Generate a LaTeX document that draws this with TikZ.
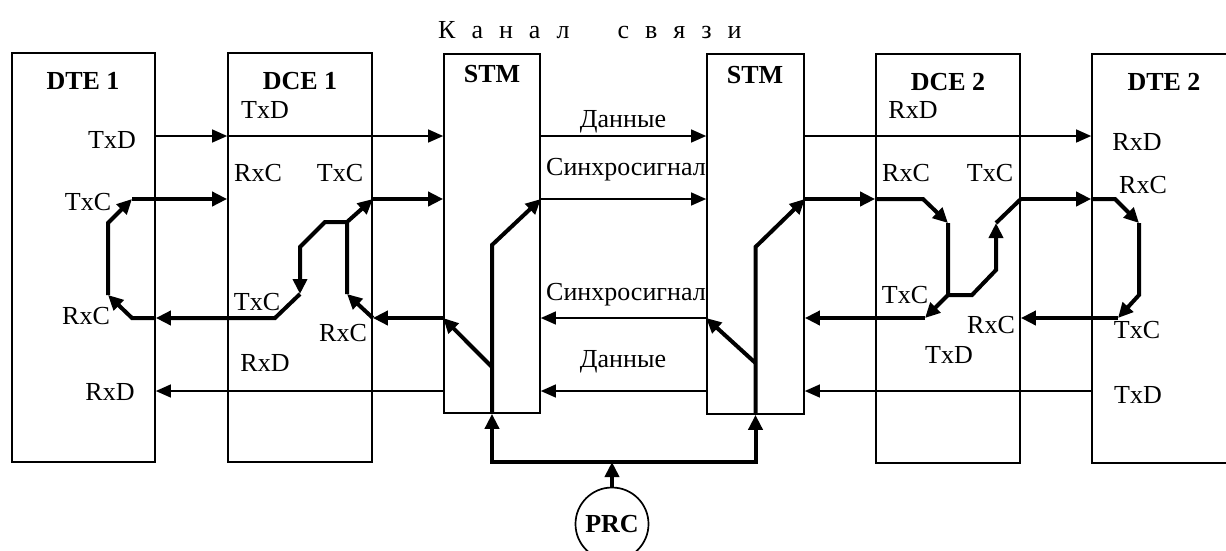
\documentclass[tikz,border=0pt]{standalone}
\usepackage{fontspec}
\setmainfont{Liberation Serif}
\usetikzlibrary{arrows.meta}
\tikzset{
  unit/.style={draw, line width=1.7pt, inner sep=0pt},
  ttl/.style={font=\fontsize{26}{30}\selectfont\bfseries, inner sep=0pt},
  sig/.style={font=\fontsize{26}{30}\selectfont, inner sep=0pt},
  ar/.style={-{Triangle[length=15pt,width=13pt]}, line width=1.3pt},
  arb/.style={-{Triangle[length=15pt,width=14pt]}, line width=4pt},
  bus/.style={line width=4pt},
  prc/.style={draw, circle, line width=1.7pt, minimum size=73pt, inner sep=0pt,
              font=\fontsize{26}{30}\selectfont\bfseries}
}

\begin{document}
\begin{tikzpicture}[x=1pt,y=-1pt]
  \clip (0,0) rectangle (1226,550);

  % blocks
  \node[unit, minimum width=143pt, minimum height=409pt] (dte1) at (83.5,257.5) {};
  \node[unit, minimum width=144pt, minimum height=409pt] (dce1) at (300,257.5) {};
  \node[unit, minimum width=96pt,  minimum height=359pt] (stm1) at (492,233.5) {};
  \node[unit, minimum width=97pt,  minimum height=360pt] (stm2) at (755.5,234) {};
  \node[unit, minimum width=144pt, minimum height=409pt] (dce2) at (948,258.5) {};
  \node[unit, minimum width=148pt, minimum height=409pt] (dte2) at (1166,258.5) {};
  \node[prc] (prc) at (612,524) {PRC};

  \node[ttl] (tdte1) at (83,81) {DTE 1};
  \node[ttl] (tdce1) at (300,81) {DCE 1};
  \node[ttl] (tstm1) at (492,74) {STM};
  \node[ttl] (tstm2) at (755,75) {STM};
  \node[ttl] (tdce2) at (948,82) {DCE 2};
  \node[ttl] (tdte2) at (1164,82) {DTE 2};
  \node[sig, anchor=west] (chan) at (438,30)
      {\spaceskip=16pt\relax К а н а л\hspace{48pt}с в я з и};

  % pin labels
  \node[sig] (l1txd) at (112,140) {TxD};
  \node[sig] (l1txc) at (88,202) {TxC};
  \node[sig] (l1rxc) at (86,316) {RxC};
  \node[sig] (l1rxd) at (110,392) {RxD};

  \node[sig] (m1txd) at (265,110) {TxD};
  \node[sig] (m1rxc) at (258,173) {RxC};
  \node[sig] (m1txc) at (340,173) {TxC};
  \node[sig] (m1txcb) at (257,302) {TxC};
  \node[sig] (m1rxcb) at (343,333) {RxC};
  \node[sig] (m1rxd) at (265,363) {RxD};

  \node[sig] (kdat) at (623,122) {Данные};
  \node[sig] (ksyn) at (626,170) {Синхросигнал};
  \node[sig] (ksynb) at (626,295) {Синхросигнал};
  \node[sig] (kdatb) at (623,362) {Данные};

  \node[sig] (m2rxd) at (913,110) {RxD};
  \node[sig] (m2rxc) at (906,173) {RxC};
  \node[sig] (m2txc) at (990,173) {TxC};
  \node[sig] (m2txcb) at (905,295) {TxC};
  \node[sig] (m2rxcb) at (991,325) {RxC};
  \node[sig] (m2txd) at (949,355) {TxD};

  \node[sig] (r2rxd) at (1137,142) {RxD};
  \node[sig] (r2rxc) at (1143,185) {RxC};
  \node[sig] (r2txc) at (1137,330) {TxC};
  \node[sig] (r2txd) at (1138,395) {TxD};

  % signal rows
  \coordinate (yTD) at (0,136);
  \coordinate (yTC) at (0,199);
  \coordinate (yRC) at (0,318);
  \coordinate (yRD) at (0,391);
  \coordinate (yB)  at (0,462);

  % bend points
  \coordinate (a1) at (132,199);
  \coordinate (a2) at (108,295);
  \coordinate (a3) at (132,318);
  \coordinate (a4) at (108,223);
  \coordinate (c1a) at (347,294);
  \coordinate (c1b) at (347,222);
  \coordinate (c1e) at (325,222);
  \coordinate (c1f) at (300,247);
  \coordinate (c1d) at (300,294);
  \coordinate (c1c) at (275,318);
  \coordinate (s1a) at (492,245);
  \coordinate (s1b) at (492,367);
  \coordinate (s2a) at (755.5,247);
  \coordinate (s2b) at (755.5,363);
  \coordinate (d2a) at (923,199);
  \coordinate (d2b) at (948,223);
  \coordinate (d2m) at (948,295);
  \coordinate (d2c) at (925,318);
  \coordinate (d2e) at (972,295);
  \coordinate (d2f) at (996,270);
  \coordinate (d2g) at (996,223);
  \coordinate (e2a) at (1115,199);
  \coordinate (e2b) at (1139,223);
  \coordinate (e2m) at (1139,295);
  \coordinate (e2c) at (1118,318);

  % data
  \draw[ar] (dte1.east |- yTD) -- (dce1.west |- yTD);
  \draw[ar] (dce1.west |- yTD) -- (stm1.west |- yTD);
  \draw[ar] (stm1.east |- yTD) -- (stm2.west |- yTD);
  \draw[ar] (stm2.east |- yTD) -- (dte2.west |- yTD);
  \draw[ar] (stm1.west |- yRD) -- (dte1.east |- yRD);
  \draw[ar] (stm2.west |- yRD) -- (stm1.east |- yRD);
  \draw[ar] (dte2.west |- yRD) -- (stm2.east |- yRD);

  % clocks
  \draw[arb] (a1) -- (dce1.west |- yTC);
  \draw[arb] (dce1.east |- yTC) -- (stm1.west |- yTC);
  \draw[ar]  (stm1.east |- yTC) -- (stm2.west |- yTC);
  \draw[arb] (stm2.east |- yTC) -- (dce2.west |- yTC);
  \draw[arb] (dce2.east |- yTC) -- (dte2.west |- yTC);
  \draw[arb] (stm1.west |- yRC) -- (dce1.east |- yRC);
  \draw[ar]  (stm2.west |- yRC) -- (stm1.east |- yRC);
  \draw[arb] (d2c) -- (stm2.east |- yRC);
  \draw[arb] (e2c) -- (dce2.east |- yRC);

  % DTE 1 loop
  \draw[arb] (dte1.east |- yRC) -- (a3) -- (a2);
  \draw[arb] (a2) -- (a4) -- (a1);

  % DCE 1
  \draw[arb] (dce1.east |- yRC) -- (c1a);
  \draw[arb] (c1a) -- (c1b) -- (dce1.east |- yTC);
  \draw[arb] (c1b) -- (c1e) -- (c1f) -- (c1d);
  \draw[arb] (c1d) -- (c1c) -- (dte1.east |- yRC);

  % STM
  \draw[arb] (stm1.south |- yB) -- (stm1.south);
  \draw[arb] (stm1.south) -- (s1a) -- (stm1.east |- yTC);
  \draw[arb] (s1b) -- (stm1.west |- yRC);
  \draw[arb] (stm2.south |- yB) -- (stm2.south);
  \draw[arb] (stm2.south) -- (s2a) -- (stm2.east |- yTC);
  \draw[arb] (s2b) -- (stm2.west |- yRC);

  % DCE 2
  \draw[arb] (dce2.west |- yTC) -- (d2a) -- (d2b);
  \draw[arb] (d2b) -- (d2m) -- (d2c);
  \draw[arb] (d2m) -- (d2e) -- (d2f) -- (d2g);
  \draw[bus] (d2g) -- (dce2.east |- yTC);

  % DTE 2 loop
  \draw[arb] (dte2.west |- yTC) -- (e2a) -- (e2b);
  \draw[arb] (e2b) -- (e2m) -- (e2c);

  % PRC
  \draw[bus, line cap=rect] (stm1.south |- yB) -- (stm2.south |- yB);
  \draw[arb] (prc.north) -- (prc.north |- yB);
\end{tikzpicture}
\end{document}
